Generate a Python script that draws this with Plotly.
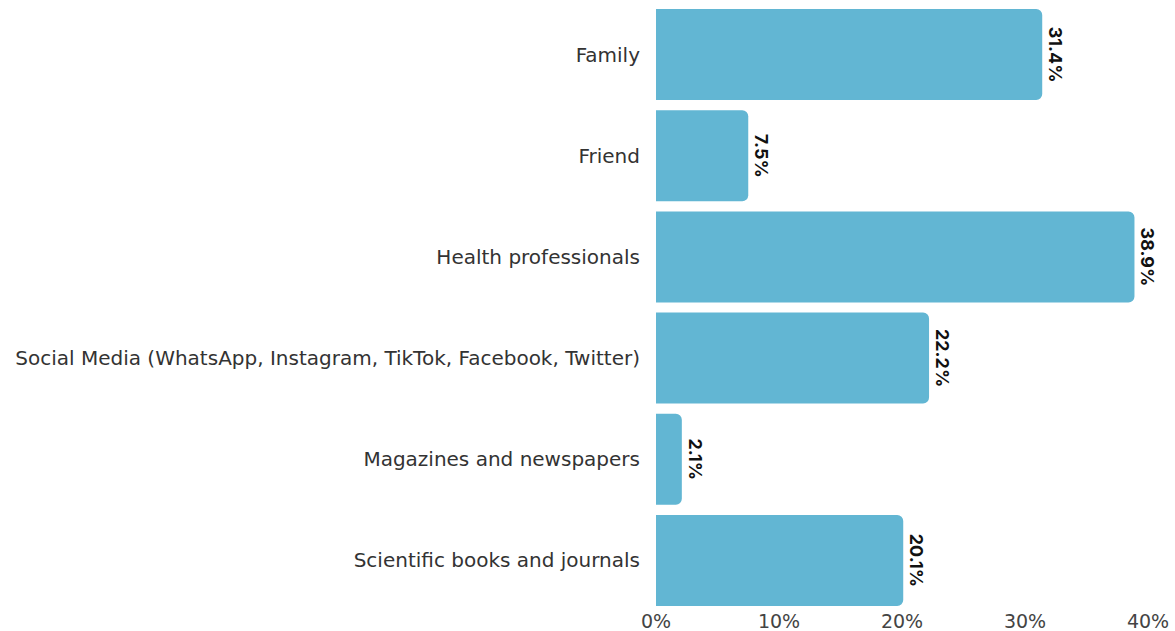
import plotly.graph_objects as go

# Information sources and share of respondents (%)
sources = [
    "Family",
    "Friend",
    "Health professionals",
    "Social Media (WhatsApp, Instagram, TikTok, Facebook, Twitter)",
    "Magazines and newspapers",
    "Scientific books and journals",
]
shares = [31.4, 7.5, 38.9, 22.2, 2.1, 20.1]
x_ticks = [0, 10, 20, 30, 40]
x_tick_labels = ["0%", "10%", "20%", "30%", "40%"]

fig = go.Figure(
    go.Bar(
        x=shares,
        y=sources,
        orientation="h",
        marker=dict(color="#62b6d3", line=dict(width=0)),
        text=[f"{v:.1f}%" for v in shares],
        textposition="outside",
        textangle=90,
        textfont=dict(family="Inter, Open Sans, sans-serif", size=18, color="#111111", weight="bold"),
        cliponaxis=False,
        hoverinfo="skip",
    )
)

fig.update_layout(
    width=1175,
    height=631,
    margin=dict(l=656, r=27, t=4, b=20),
    paper_bgcolor="white",
    plot_bgcolor="white",
    bargap=0.1,
    barcornerradius=6,
    showlegend=False,
    font=dict(family="DejaVu Sans, sans-serif", size=20, color="#333333"),
    xaxis=dict(
        range=[0, 40],
        tickvals=x_ticks,
        ticktext=x_tick_labels,
        showgrid=False,
        zeroline=False,
        showline=False,
        ticks="",
        automargin=False,
        ticklabelstandoff=-3,
        tickfont=dict(family="DejaVu Sans, sans-serif", size=19, color="#444444"),
    ),
    yaxis=dict(
        autorange="reversed",
        showgrid=False,
        zeroline=False,
        showline=False,
        ticks="",
        automargin=False,
        ticklabelstandoff=15,
        tickfont=dict(family="DejaVu Sans, sans-serif", size=20, color="#333333"),
    ),
)

fig.write_html("out.html")
